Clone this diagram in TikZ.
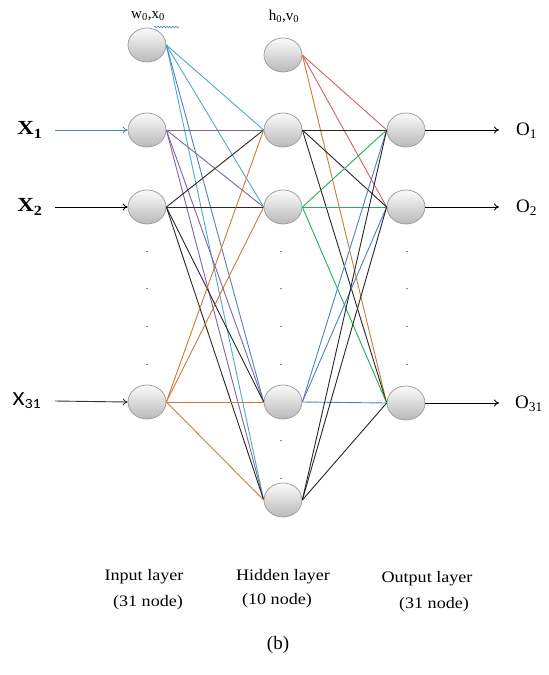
\documentclass[tikz,border=0pt]{standalone}
\usepackage{fontspec}
\setmainfont{Liberation Serif}
\newfontfamily\calib{Carlito}
\usetikzlibrary{shapes.geometric,arrows.meta,decorations.pathmorphing}
\definecolor{ccyan}{HTML}{4BACC6}
\definecolor{cblue}{HTML}{4F81BD}
\definecolor{cpurple}{HTML}{8064A2}
\definecolor{corange}{HTML}{CD7A33}
\definecolor{cred}{HTML}{D2606A}
\definecolor{cgreen}{HTML}{22B05A}
\begin{document}
\begin{tikzpicture}[x=1pt,y=-1pt,
  neuron/.style={ellipse,minimum width=38pt,minimum height=34pt,inner sep=0pt,
    draw=gray!80,line width=0.7pt,top color=gray!3,bottom color=gray!55},
  edge/.style={line width=0.9pt},
  inarrow/.style={line width=0.9pt,-{To[length=5pt,width=7pt]}},
  biglab/.style={font=\fontsize{20}{21}\selectfont,xscale=1.15},
  outlab/.style={font=\fontsize{19}{20}\selectfont,anchor=west,inner sep=1pt},
  laytxt/.style={font=\fontsize{16}{18}\selectfont,xscale=1.13},
  dotlab/.style={font=\fontsize{10}{10}\selectfont}]
\useasboundingbox (0,0) rectangle (549,675);
% nodes
\node[neuron] (w0) at (147,45) {};
\node[neuron] (x1) at (147,130) {};
\node[neuron] (x2) at (147,207) {};
\node[neuron] (x31) at (147,402) {};
\node[neuron] (h0) at (283,55) {};
\node[neuron] (h1) at (283,130) {};
\node[neuron] (h2) at (283,207) {};
\node[neuron] (h9) at (283,402) {};
\node[neuron] (h10) at (283,500) {};
\node[neuron] (o1) at (406,130) {};
\node[neuron] (o2) at (406,207) {};
\node[neuron] (o31) at (406,403) {};
% input -> hidden
\foreach \t in {h1,h2,h10} \draw[edge,ccyan] (w0.east) -- (\t.west);
\draw[edge,cblue] (w0.east) -- (h9.west);
\foreach \t in {h1,h2,h9,h10} \draw[edge,cpurple] (x1.east) -- (\t.west);
\foreach \t in {h1,h2,h9,h10} \draw[edge,black!85] (x2.east) -- (\t.west);
\foreach \t in {h1,h2,h9,h10} \draw[edge,corange] (x31.east) -- (\t.west);
% hidden -> output
\draw[edge,cred] (h0.east) -- (o1.west);
\draw[edge,cred] (h0.east) -- (o2.west);
\draw[edge,corange] (h0.east) -- (o31.west);
\foreach \t in {o1,o2,o31} \draw[edge,black!85] (h1.east) -- (\t.west);
\foreach \t in {o1,o2,o31} \draw[edge,cgreen] (h2.east) -- (\t.west);
\foreach \t in {o1,o2,o31} \draw[edge,cblue] (h9.east) -- (\t.west);
\foreach \t in {o1,o2,o31} \draw[edge,black!85] (h10.east) -- (\t.west);
% input labels and arrows
\node[biglab,font=\bfseries\fontsize{20}{21}\selectfont] (lx1) at (30,130) {X\textsubscript{1}};
\node[biglab,font=\bfseries\fontsize{20}{21}\selectfont] (lx2) at (30,207) {X\textsubscript{2}};
\node[biglab,font=\calib\fontsize{20}{21}\selectfont] (lx31) at (27,401) {X\textsubscript{31}};
\coordinate (ax1) at (55,130);
\coordinate (ax2) at (55,207);
\coordinate (ax31) at (55,401);
\draw[inarrow,cblue] (ax1) -- (x1.west);
\draw[inarrow,black] (ax2) -- (x2.west);
\draw[inarrow,black!80] (ax31) -- (x31.west);
% output arrows and labels
\coordinate (bo1) at (499,130);
\coordinate (bo2) at (499,207);
\coordinate (bo31) at (499,403);
\draw[inarrow,black] (o1.east) -- (bo1);
\draw[inarrow,black] (o2.east) -- (bo2);
\draw[inarrow,black] (o31.east) -- (bo31);
\node[outlab] (lo1) at (515,131) {O\textsubscript{1}};
\node[outlab] (lo2) at (515,208) {O\textsubscript{2}};
\node[outlab] (lo31) at (514,404) {O\textsubscript{31}};
% bias labels
\node[font=\fontsize{15}{16}\selectfont] (lw0) at (148,16) {w\textsubscript{0},x\textsubscript{0}};
\node[font=\fontsize{15}{16}\selectfont] (lh0) at (284,16) {h\textsubscript{0},v\textsubscript{0}};
\coordinate (wv1) at (154,27);
\coordinate (wv2) at (179,27);
\draw[cblue,line width=0.6pt,decorate,decoration={snake,amplitude=0.8pt,segment length=3pt}] (wv1) -- (wv2);
% dots
\foreach \yy [count=\i] in {252,289,327,365} {
  \node[dotlab] (di\i) at (147,\yy) {.};
  \node[dotlab] (dh\i) at (281,\yy) {.};
  \node[dotlab] (do\i) at (407,\yy) {.};
}
\node[dotlab] (dh5) at (281,441) {.};
\node[dotlab] (dh6) at (281,479) {.};
% layer captions
\node[laytxt] (t1) at (144,577) {Input layer};
\node[laytxt] (t2) at (148,603) {(31 node)};
\node[laytxt] (t3) at (283,577) {Hidden layer};
\node[laytxt] (t4) at (277,601) {(10 node)};
\node[laytxt] (t5) at (427,579) {Output layer};
\node[laytxt] (t6) at (434,605) {(31 node)};
\node[font=\fontsize{19}{20}\selectfont] (cap) at (278,645) {(b)};
\end{tikzpicture}
\end{document}
